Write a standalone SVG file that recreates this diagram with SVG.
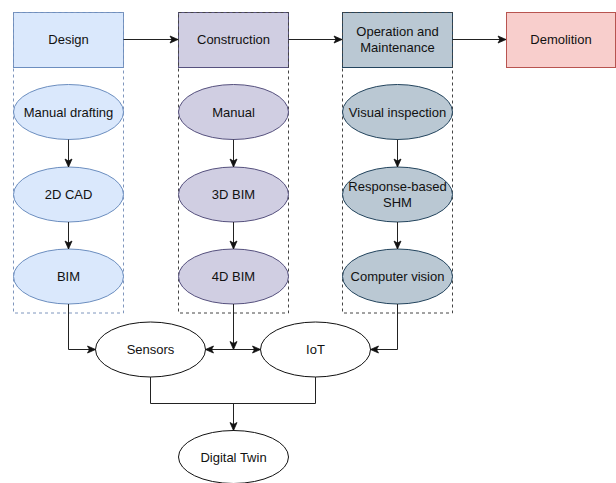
<svg xmlns="http://www.w3.org/2000/svg" width="616" height="483" viewBox="0 0 616 483">
<defs>
<marker id="arr" markerWidth="10" markerHeight="10" refX="9" refY="5" orient="auto" markerUnits="userSpaceOnUse">
<path d="M1,1.5 L9,5 L1,8.5 L3,5 Z" fill="#111" stroke="#111" stroke-width="0.8"/>
</marker>
<style>
text{font-family:"Liberation Sans",Arial,sans-serif;font-size:13px;fill:#111;text-anchor:middle}
.edge{fill:none;stroke:#222;stroke-width:1}
.d{fill:#dae8fc;stroke:#6c8ebf;stroke-width:1}
.c{fill:#d0cee2;stroke:#56517e;stroke-width:1}
.o{fill:#bac8d3;stroke:#23445d;stroke-width:1}
.m{fill:#f8cecc;stroke:#b85450;stroke-width:1}
.w{fill:#fff;stroke:#111;stroke-width:1}
.cont{fill:none;stroke-dasharray:3 3;stroke-width:1}
</style>
</defs>
<rect width="616" height="483" fill="#fff"/>
<g id="design"><rect class="d" x="13.5" y="12.5" width="110" height="55"/><text x="68.5" y="44">Design</text></g>
<g id="construction"><rect class="c" x="178.5" y="12.5" width="110" height="55"/><text x="233.5" y="44">Construction</text></g>
<g id="operation"><rect class="o" x="342.5" y="12.5" width="110" height="55"/><text x="397.5" y="36">Operation and</text><text x="397.5" y="52">Maintenance</text></g>
<g id="demolition"><rect class="m" x="506.5" y="12.5" width="109" height="55"/><text x="561" y="44">Demolition</text></g>
<g id="design-group"><rect class="cont" x="13.5" y="12.5" width="110" height="300.5" stroke="#7f96bd"/></g>
<g id="construction-group"><rect class="cont" x="178.5" y="12.5" width="110" height="300.5" stroke="#444"/></g>
<g id="operation-group"><rect class="cont" x="342.5" y="12.5" width="110" height="300.5" stroke="#444"/></g>
<g id="manual-drafting"><ellipse class="d" cx="68.5" cy="112" rx="55" ry="27.5"/><text x="68.5" y="116.5">Manual drafting</text></g>
<g id="cad2d"><ellipse class="d" cx="68.5" cy="194.5" rx="55" ry="27.5"/><text x="68.5" y="199">2D CAD</text></g>
<g id="bim"><ellipse class="d" cx="68.5" cy="276.5" rx="55" ry="27.5"/><text x="68.5" y="281">BIM</text></g>
<g id="manual"><ellipse class="c" cx="233.5" cy="112" rx="55" ry="27.5"/><text x="233.5" y="116.5">Manual</text></g>
<g id="bim3d"><ellipse class="c" cx="233.5" cy="194.5" rx="55" ry="27.5"/><text x="233.5" y="199">3D BIM</text></g>
<g id="bim4d"><ellipse class="c" cx="233.5" cy="276.5" rx="55" ry="27.5"/><text x="233.5" y="281">4D BIM</text></g>
<g id="visual"><ellipse class="o" cx="397.5" cy="112" rx="55" ry="27.5"/><text x="397.5" y="116.5">Visual inspection</text></g>
<g id="shm"><ellipse class="o" cx="397.5" cy="194.5" rx="55" ry="27.5"/><text x="397.5" y="190.5">Response-based</text><text x="397.5" y="206.5">SHM</text></g>
<g id="vision"><ellipse class="o" cx="397.5" cy="276.5" rx="55" ry="27.5"/><text x="397.5" y="281">Computer vision</text></g>
<g id="sensors"><ellipse class="w" cx="150.5" cy="349.5" rx="55" ry="27.5"/><text x="150.5" y="354">Sensors</text></g>
<g id="iot"><ellipse class="w" cx="315.5" cy="349.5" rx="55" ry="27.5"/><text x="315.5" y="354">IoT</text></g>
<g id="digital-twin"><ellipse class="w" cx="233.5" cy="457" rx="55" ry="26.5"/><text x="233.5" y="461.5">Digital Twin</text></g>
<g id="connectors">
<path class="edge" d="M123.5,39.5 H178" marker-end="url(#arr)"/>
<path class="edge" d="M288.5,39.5 H342" marker-end="url(#arr)"/>
<path class="edge" d="M452.5,39.5 H506" marker-end="url(#arr)"/>
<path class="edge" d="M68.5,139.5 V167" marker-end="url(#arr)"/>
<path class="edge" d="M68.5,222 V249" marker-end="url(#arr)"/>
<path class="edge" d="M233.5,139.5 V167" marker-end="url(#arr)"/>
<path class="edge" d="M233.5,222 V249" marker-end="url(#arr)"/>
<path class="edge" d="M397.5,139.5 V167" marker-end="url(#arr)"/>
<path class="edge" d="M397.5,222 V249" marker-end="url(#arr)"/>
<path class="edge" d="M68.5,304 V349.5 H95.5" marker-end="url(#arr)"/>
<path class="edge" d="M397.5,304 V349.5 H370.5" marker-end="url(#arr)"/>
<path class="edge" d="M233.5,304 V349.5" marker-end="url(#arr)"/>
<path class="edge" d="M233.5,349.5 H205.5" marker-end="url(#arr)"/>
<path class="edge" d="M233.5,349.5 H260.5" marker-end="url(#arr)"/>
<path class="edge" d="M150.5,377 V403.5 H315.5 V377"/>
<path class="edge" d="M233.5,403.5 V430.5" marker-end="url(#arr)"/>
</g>
</svg>
